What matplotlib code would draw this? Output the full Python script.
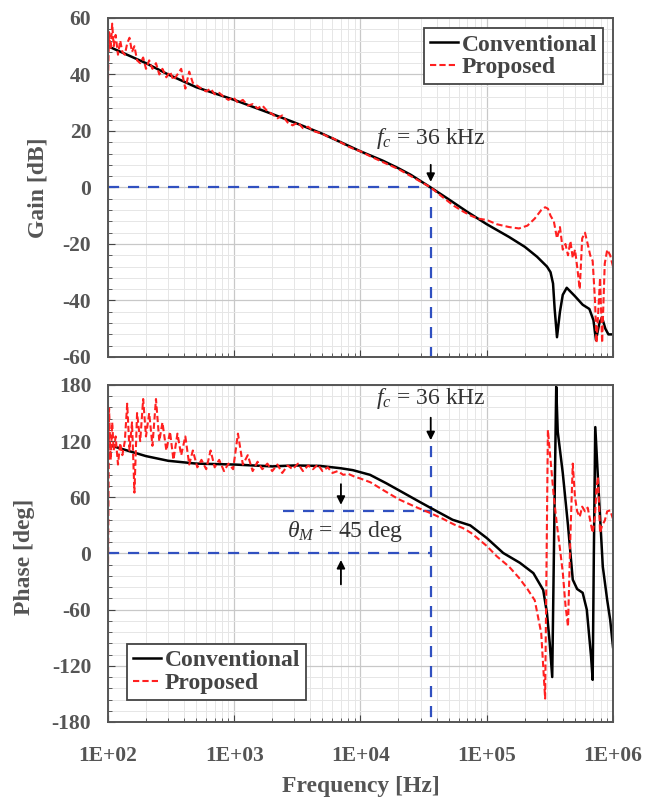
import numpy as np
import matplotlib
matplotlib.use('Agg')
import matplotlib.pyplot as plt
from matplotlib.ticker import LogLocator, MultipleLocator, NullFormatter

plt.rcParams['font.family'] = ['Liberation Serif', 'DejaVu Serif']
plt.rcParams['mathtext.fontset'] = 'custom'
plt.rcParams['mathtext.rm'] = 'Liberation Serif'
plt.rcParams['mathtext.it'] = 'Liberation Serif:italic'
plt.rcParams['axes.unicode_minus'] = False

# Conventional (smooth) gain
f_conv_gain = [100, 150, 200, 300, 500, 1000, 2000, 3000, 5000, 7000, 10000, 15000, 20000,
               25000, 36000, 50000, 70000, 100000, 150000, 200000, 250000, 300000, 320000,
               335000, 345000, 360000, 380000, 400000, 430000, 500000, 575000, 650000,
               700000, 733000, 780000, 818000, 870000, 920000, 1000000]
gain_conv = [50, 46.5, 44, 40, 35.5, 31, 26, 23, 19, 16, 12.8, 9.5, 6.8,
             4.5, 0, -4.2, -8.6, -13, -17.5, -21, -24.5, -28, -30,
             -34, -43, -53, -44, -38, -35.5, -38.5, -41.5, -43,
             -47, -54, -48, -46, -50, -52, -52]

# Conventional phase
f_conv_phase = [100, 120, 150, 200, 300, 500, 1000, 2000, 3000, 4800, 7000, 8700, 11900,
                16000, 22000, 29500, 36000, 53600, 74000, 100000, 135000, 183000, 234000,
                280000, 300000, 315000, 330000, 345000, 355000, 365000, 400000, 440000,
                480000, 520000, 575000, 620000, 670000, 690000, 705000, 724000, 760000,
                830000, 900000, 950000, 1000000]
phase_conv = [116, 113, 109, 104, 99, 96, 95, 93, 94, 93.5, 91, 89, 84,
              75, 64.6, 55, 48.6, 36, 30, 16.5, 0.5, -10, -21,
              -39, -64, -95, -132, 60, 178, 130, 86, 30,
              -28, -38, -42, -60, -110, -135, 0, 135, 80,
              -14, -50, -71, -100]

# Proposed (measured, noisy) response
f_prop = [100, 102, 105, 108, 111, 115, 120, 125, 130, 136, 142, 148, 155, 162, 170, 180,
          190, 200, 212, 225, 240, 255, 270, 290, 310, 330, 355, 380, 410, 440, 470, 510,
          550, 600, 650, 700, 760, 830, 900, 980, 1070, 1170, 1280, 1400, 1530, 1670, 1830,
          2000, 2200, 2400, 2650, 2900, 3200, 3500, 3850, 4200, 4600, 5000, 5500, 6000,
          6600, 7300, 8000, 9000, 10000, 12000, 15000, 20000, 27000, 36000, 45000, 55000,
          65000, 75000, 85000, 100000, 120000, 150000, 180000, 210000, 240000, 270000,
          290000, 305000, 320000, 340000, 360000, 380000, 400000, 420000, 440000, 460000,
          480000, 500000, 520000, 545000, 570000, 600000, 630000, 660000, 690000, 720000,
          740000, 760000, 790000, 820000, 860000, 900000, 950000, 1000000]
gain_prop = [38, 55, 49, 58, 50, 54, 47, 52, 48, 47, 51, 53, 48, 50, 45, 44,
             46, 42, 45, 42, 44, 40, 42, 39, 41, 38, 40, 42, 35, 41, 37, 36,
             35, 34, 35, 33, 33.5, 32, 31, 32, 30, 31, 29, 29.5, 28, 29, 27,
             26, 24.5, 25.5, 23, 22, 23, 21, 21.5, 20, 19.5, 19, 18, 17.5,
             16.5, 15.5, 14.5, 13.5, 12.8, 11, 9, 6.5, 3.2, 0, -3.5, -6.5,
             -8.5, -10, -11, -11.5, -13, -14, -14.5, -13.5, -11, -8,
             -7, -7.5, -10, -12, -18, -14, -22, -20, -24, -19,
             -25, -22, -28, -36, -18, -16, -20, -24, -26, -40,
             -55, -46, -32, -55, -27, -22, -24, -28]
phase_prop = [-20, 155, 100, 140, 110, 125, 95, 118, 105, 120, 160, 110, 140, 65, 150, 120,
              165, 125, 150, 115, 165, 120, 140, 110, 130, 100, 128, 105, 125, 95, 110, 92,
              100, 90, 110, 92, 100, 88, 96, 90, 128, 95, 105, 88, 98, 90, 96,
              88, 95, 86, 94, 90, 96, 88, 94, 90, 95, 88, 92, 86,
              88, 84, 85, 82, 80, 76, 68, 58, 50, 43, 37, 31,
              27, 22, 16, 8, -3, -14, -26, -38, -50, -85,
              -155, 132, 100, 60, 30, 5, -20, -55, -78, 20,
              96, 60, 45, 39, 50, 45, 49, 35, 22, 40,
              70, 82, 22, 30, 35, 45, 46, 37]

fc = 36000
pm = 45

gray = '#555555'
blue = '#3050c0'
red = '#ff2020'
TICK = 15.5
LAB = 17

fig = plt.figure(figsize=(6.52, 7.99), dpi=100)
ax1 = fig.add_axes([0.1656, 0.5532, 0.7746, 0.4243])
ax2 = fig.add_axes([0.1656, 0.0964, 0.7746, 0.4218])

for ax in (ax1, ax2):
    ax.set_xscale('log')
    ax.set_xlim(1e2, 1e6)
    ax.xaxis.set_major_locator(LogLocator(base=10, numticks=10))
    ax.xaxis.set_minor_locator(LogLocator(base=10, subs=np.arange(2, 10), numticks=20))
    ax.xaxis.set_minor_formatter(NullFormatter())
    ax.grid(True, which='major', color='#c8c8c8', lw=0.9)
    ax.grid(True, which='minor', color='#e6e6e6', lw=0.7)
    ax.set_axisbelow(True)
    ax.tick_params(which='both', direction='in', top=False, right=False, colors='#444444',
                   labelcolor=gray, labelsize=TICK)
    ax.tick_params(axis='y', which='both', pad=12)
    ax.tick_params(axis='x', which='both', pad=17)
    ax.tick_params(which='major', length=5)
    ax.tick_params(which='minor', length=3)
    for s in ax.spines.values():
        s.set_color('#555555')
        s.set_linewidth(1.4)

# --- Gain ---
ax1.set_ylim(-60, 60)
ax1.yaxis.set_major_locator(MultipleLocator(20))
ax1.yaxis.set_minor_locator(MultipleLocator(4))
ax1.set_xticklabels([])
ax1.plot([1e2, fc], [0, 0], ls='--', color=blue, lw=1.6, dashes=(5, 4))
ax1.plot([fc, fc], [0, -60], ls='--', color=blue, lw=1.6, dashes=(5, 4))
ax1.plot(f_conv_gain, gain_conv, color='black', lw=1.8, label='Conventional')
ax1.plot(f_prop, gain_prop, color=red, lw=1.5, ls='--', dashes=(3, 1.5), label='Proposed')
ax1.set_ylabel('Gain [dB]', fontsize=LAB, fontweight='bold', color=gray)
ax1.yaxis.set_label_coords(-0.118, 0.5)
ax1.annotate('', xy=(fc, 1), xytext=(fc, 9),
             arrowprops=dict(arrowstyle='-|>', color='black', lw=1.3, mutation_scale=12))
ax1.text(fc, 13, r'$f_c$ = 36 kHz', fontsize=17, ha='center', va='bottom', color='#333333')
leg1 = ax1.legend(loc='upper right', bbox_to_anchor=(0.98, 0.97), borderaxespad=0,
                  prop={'weight': 'bold', 'size': 17}, handlelength=1.2, handletextpad=0.15,
                  borderpad=0.25, labelspacing=0.05, fancybox=False, framealpha=1)
leg1.get_frame().set_edgecolor('#444444')
leg1.get_frame().set_linewidth(1.3)
for t in leg1.get_texts():
    t.set_color('#444444')

# --- Phase ---
ax2.set_ylim(-180, 180)
ax2.yaxis.set_major_locator(MultipleLocator(60))
ax2.yaxis.set_minor_locator(MultipleLocator(12))
ax2.plot([1e2, fc], [0, 0], color=blue, lw=1.6, ls='--', dashes=(5, 4))
ax2.plot([2430, fc], [pm, pm], color=blue, lw=1.6, ls='--', dashes=(5, 4))
ax2.plot([fc, fc], [115, -180], color=blue, lw=1.6, ls='--', dashes=(5, 4))
ax2.plot(f_conv_phase, phase_conv, color='black', lw=1.8, label='Conventional')
ax2.plot(f_prop, phase_prop, color=red, lw=1.5, ls='--', dashes=(3, 1.5), label='Proposed')
ax2.set_ylabel('Phase [deg]', fontsize=LAB, fontweight='bold', color=gray)
ax2.yaxis.set_label_coords(-0.145, 0.49)
ax2.set_xlabel('Frequency [Hz]', fontsize=LAB, fontweight='bold', color=gray)
ax2.xaxis.set_label_coords(0.5, -0.16)
ax2.set_xticks([1e2, 1e3, 1e4, 1e5, 1e6])
ax2.set_xticklabels(['1E+02', '1E+03', '1E+04', '1E+05', '1E+06'])
ax2.annotate('', xy=(fc, 118), xytext=(fc, 148),
             arrowprops=dict(arrowstyle='-|>', color='black', lw=1.3, mutation_scale=12))
ax2.text(fc, 152, r'$f_c$ = 36 kHz', fontsize=17, ha='center', va='bottom', color='#333333')
ax2.annotate('', xy=(7000, 49), xytext=(7000, 77),
             arrowprops=dict(arrowstyle='-|>', color='black', lw=1.3, mutation_scale=12))
ax2.annotate('', xy=(7000, -4), xytext=(7000, -36),
             arrowprops=dict(arrowstyle='-|>', color='black', lw=1.3, mutation_scale=12))
ax2.text(7600, 23, r'$\theta_M$ = 45 deg', fontsize=17, ha='center', va='center', color='#333333')
leg2 = ax2.legend(loc='lower left', bbox_to_anchor=(0.038, 0.065), borderaxespad=0,
                  prop={'weight': 'bold', 'size': 17}, handlelength=1.2, handletextpad=0.15,
                  borderpad=0.25, labelspacing=0.05, fancybox=False, framealpha=1)
leg2.get_frame().set_edgecolor('#444444')
leg2.get_frame().set_linewidth(1.3)
for t in leg2.get_texts():
    t.set_color('#444444')

for ax in (ax1, ax2):
    for lab in ax.get_yticklabels() + ax.get_xticklabels():
        lab.set_fontweight('bold')

fig.savefig('out.png', dpi=100)
